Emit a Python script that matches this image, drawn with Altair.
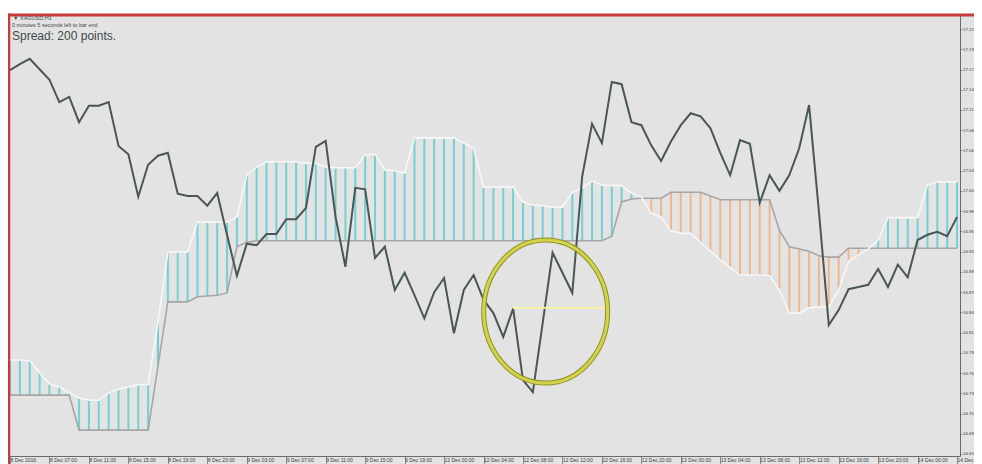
import altair as alt
import pandas as pd

# ---- data (H1 bars, price levels) ----
close = [17.165, 17.173, 17.180, 17.166, 17.152, 17.122, 17.129, 17.095, 17.117, 17.117,
         17.122, 17.063, 17.052, 16.995, 17.038, 17.050, 17.054, 16.999, 16.996, 16.996,
         16.983, 17.000, 16.944, 16.889, 16.932, 16.930, 16.945, 16.945, 16.965, 16.965,
         16.980, 17.062, 17.070, 16.968, 16.901, 17.007, 17.005, 16.913, 16.928, 16.870,
         16.893, 16.863, 16.832, 16.867, 16.886, 16.812, 16.870, 16.890, 16.857, 16.839,
         16.807, 16.845, 16.749, 16.733, 16.826, 16.920, 16.893, 16.866, 17.022, 17.093,
         17.067, 17.149, 17.146, 17.095, 17.091, 17.064, 17.043, 17.069, 17.091, 17.107,
         17.103, 17.087, 17.054, 17.024, 17.071, 17.066, 16.987, 17.024, 17.003, 17.024,
         17.060, 17.118, 16.975, 16.823, 16.843, 16.871, 16.874, 16.877, 16.898, 16.874,
         16.904, 16.887, 16.937, 16.944, 16.948, 16.942, 16.968]

span_a = [16.776, 16.776, 16.775, 16.759, 16.744, 16.740, 16.732, 16.725, 16.722, 16.722,
          16.732, 16.737, 16.740, 16.743, 16.743, 16.826, 16.921, 16.921, 16.921, 16.961,
          16.961, 16.961, 16.961, 16.968, 17.024, 17.035, 17.042, 17.042, 17.042, 17.042,
          17.040, 17.040, 17.035, 17.034, 17.034, 17.034, 17.051, 17.052, 17.031, 17.030,
          17.027, 17.074, 17.074, 17.074, 17.074, 17.074, 17.067, 17.060, 17.008, 17.008,
          17.008, 17.008, 16.988, 16.984, 16.983, 16.981, 16.981, 17.001, 17.007, 17.016,
          17.011, 17.010, 17.010, 17.000, 16.995, 16.973, 16.968, 16.949, 16.946, 16.946,
          16.934, 16.922, 16.910, 16.900, 16.890, 16.890, 16.890, 16.889, 16.870, 16.839,
          16.839, 16.846, 16.847, 16.847, 16.870, 16.908, 16.917, 16.925, 16.937, 16.967,
          16.967, 16.967, 16.967, 17.011, 17.015, 17.015, 17.015]

span_b = [16.729, 16.729, 16.729, 16.729, 16.729, 16.729, 16.729, 16.682, 16.682, 16.682,
          16.682, 16.682, 16.682, 16.682, 16.682, 16.768, 16.854, 16.854, 16.854, 16.861,
          16.862, 16.863, 16.866, 16.928, 16.934, 16.936, 16.936, 16.936, 16.936, 16.936,
          16.936, 16.936, 16.936, 16.936, 16.936, 16.936, 16.936, 16.936, 16.936, 16.936,
          16.936, 16.936, 16.936, 16.936, 16.936, 16.936, 16.936, 16.936, 16.936, 16.936,
          16.936, 16.936, 16.936, 16.936, 16.936, 16.936, 16.936, 16.936, 16.936, 16.936,
          16.936, 16.942, 16.988, 16.992, 16.993, 16.993, 16.993, 17.001, 17.001, 17.001,
          17.001, 16.996, 16.991, 16.991, 16.991, 16.991, 16.991, 16.991, 16.950, 16.928,
          16.925, 16.922, 16.916, 16.914, 16.914, 16.926, 16.926, 16.926, 16.926, 16.926,
          16.926, 16.926, 16.926, 16.926, 16.926, 16.926, 16.926]

x_label_pos = [0, 4, 8, 12, 16, 20, 24, 28, 32, 36, 40, 44, 48, 52, 56, 60, 64, 68, 72,
               76, 80, 84, 88, 92, 96]
x_labels = ["8 Dec 2016", "8 Dec 07:00", "8 Dec 11:00", "8 Dec 15:00", "8 Dec 19:00",
            "8 Dec 23:00", "9 Dec 03:00", "9 Dec 07:00", "9 Dec 11:00", "9 Dec 15:00",
            "9 Dec 19:00", "12 Dec 00:00", "12 Dec 04:00", "12 Dec 08:00", "12 Dec 12:00",
            "12 Dec 16:00", "12 Dec 20:00", "13 Dec 00:00", "13 Dec 04:00", "13 Dec 08:00",
            "13 Dec 12:00", "13 Dec 16:00", "13 Dec 20:00", "14 Dec 00:00", "14 Dec 04:00"]

y_ticks = [17.2200, 17.1929, 17.1657, 17.1386, 17.1114, 17.0843, 17.0571, 17.0300,
           17.0029, 16.9757, 16.9486, 16.9214, 16.8943, 16.8671, 16.8400, 16.8129,
           16.7857, 16.7586, 16.7314, 16.7043, 16.6771, 16.6500]

circle_x = [54.3]
circle_y = [16.841]
level_x1 = [51.0]
level_x2 = [60.5]
level_y = [16.846]

header_lines = ["\u25bc XAGUSD,H1", "0 minutes 5 seconds left to bar end", "Spread: 200 points."]

# ---- layout ----
W, H = 952, 441
PAD_R, PAD_B, PAD_T = 14, 8, 7
X_DOMAIN = [-0.203, 96.300]
Y_DOMAIN = [16.6473, 17.2388]
BG = "#e3e3e3"

df = pd.DataFrame({"i": list(range(len(close))), "close": close, "a": span_a, "b": span_b})

xs = alt.Scale(domain=X_DOMAIN, nice=False, zero=False)
ys = alt.Scale(domain=Y_DOMAIN, nice=False, zero=False)

label_expr = "[" + ",".join("' " + s + "'" for s in x_labels) + "][round(datum.value/4)]"

x_axis = alt.Axis(orient="bottom", values=x_label_pos, labelExpr=label_expr,
                  title=None, grid=False, domainColor="#6a6a6a", domainWidth=1,
                  tickColor="#8a8a8a", tickSize=8, labelFontSize=5, labelColor="#3a3a3a",
                  labelAlign="left", labelBaseline="top", labelPadding=-7,
                  labelFlush=False, labelOverlap=False, labelAngle=0,
                  labelFont="Liberation Sans", zindex=2)
y_axis = alt.Axis(orient="right", values=y_ticks, format=".2f", title=None,
                  grid=False, domainColor="#6a6a6a", domainWidth=1, tickColor="#8a8a8a",
                  tickSize=2, labelFontSize=4.4, labelColor="#3a3a3a", labelPadding=0.5,
                  labelFlush=False, labelOverlap=False, labelFont="Liberation Sans",
                  zindex=2)


def X(field):
    return alt.X(field, type="quantitative", scale=xs, axis=x_axis)


def Y(field):
    return alt.Y(field, type="quantitative", scale=ys, axis=y_axis)


base = alt.Chart(df)
one = pd.DataFrame({"k": [0]})

top_white = alt.Chart(one).mark_rect(color="#ffffff").encode(
    x=alt.value(0), x2=alt.value(W + PAD_R), y=alt.value(-PAD_T), y2=alt.value(0))

hatch = base.transform_calculate(
    side="datum.a >= datum.b ? 'up' : 'down'"
).mark_rule(strokeWidth=2).encode(
    x=X("i"), y=Y("a"), y2="b:Q",
    color=alt.Color("side:N", scale=alt.Scale(domain=["up", "down"],
                                              range=["#74d0d3", "#f0b68c"]), legend=None),
)

line_a = base.mark_line(color="#f7f7f7", strokeWidth=1.6).encode(x=X("i"), y=Y("a"))
line_b = base.mark_line(color="#a6a6a6", strokeWidth=1.6).encode(x=X("i"), y=Y("b"))
price = base.mark_line(color="#4a5656", strokeWidth=2).encode(x=X("i"), y=Y("close"))

lvl_df = pd.DataFrame({"i": level_x1, "x2": level_x2, "close": level_y})
level = alt.Chart(lvl_df).mark_rule(color="#f4f4a4", strokeWidth=2).encode(
    x=X("i"), x2="x2:Q", y=Y("close"))

ellipse = ("M0,-1C0.4788,-1,0.867,-0.5523,0.867,0C0.867,0.5523,0.4788,1,0,1"
           "C-0.4788,1,-0.867,0.5523,-0.867,0C-0.867,-0.5523,-0.4788,-1,0,-1Z")
circ_df = pd.DataFrame({"i": circle_x, "close": circle_y})
circ_outer = alt.Chart(circ_df).mark_point(shape=ellipse, size=20449, filled=False,
                                           color="#8f8f2c", strokeWidth=5, opacity=1).encode(
    x=X("i"), y=Y("close"))
circ_inner = alt.Chart(circ_df).mark_point(shape=ellipse, size=20449, filled=False,
                                           color="#d3d34a", strokeWidth=3, opacity=1).encode(
    x=X("i"), y=Y("close"))

frame_left = alt.Chart(one).mark_rule(color="#c83a3a", strokeWidth=2.5).encode(
    x=alt.value(1), y=alt.value(-1.5), y2=alt.value(H + PAD_B))
frame_top = alt.Chart(one).mark_rule(color="#c83a3a", strokeWidth=3).encode(
    y=alt.value(0), x=alt.value(0), x2=alt.value(W + PAD_R))

hdr1 = alt.Chart(pd.DataFrame({"t": [header_lines[0]]})).mark_text(
    align="left", baseline="middle", fontSize=5.5, color="#3f4a4a", font="Liberation Sans"
).encode(x=alt.value(5), y=alt.value(3), text="t:N")
hdr2 = alt.Chart(pd.DataFrame({"t": [header_lines[1]]})).mark_text(
    align="left", baseline="middle", fontSize=5.5, color="#3f4a4a", font="Liberation Sans"
).encode(x=alt.value(4), y=alt.value(10), text="t:N")
hdr3 = alt.Chart(pd.DataFrame({"t": [header_lines[2]]})).mark_text(
    align="left", baseline="middle", fontSize=12, color="#3d4a4a", font="Liberation Sans"
).encode(x=alt.value(4), y=alt.value(20.5), text="t:N")

chart = alt.layer(
    top_white, hatch, line_b, line_a, price, level, circ_outer, circ_inner,
    frame_left, frame_top, hdr1, hdr2, hdr3
).properties(
    width=W, height=H,
    autosize=alt.AutoSizeParams(type="none"),
    padding={"left": 0, "top": PAD_T, "right": PAD_R, "bottom": PAD_B},
    background=BG,
).configure_view(fill=BG, stroke="transparent")

chart.save("out.html", embed_options={"renderer": "svg", "actions": False})
